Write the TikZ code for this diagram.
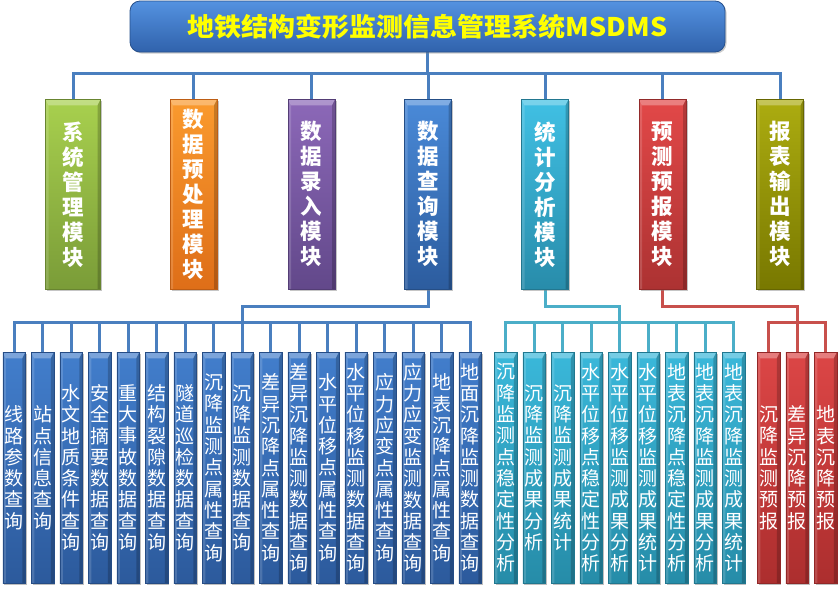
\documentclass[tikz,border=0pt]{standalone}
\usepackage{fontspec}
\newfontfamily\cjk{Noto Sans CJK SC}
\usetikzlibrary{shadows,calc}
\pgfdeclarelayer{background}
\pgfsetlayers{background,main}
\makeatletter
\newcommand\vstk[1]{\def\vres{}\def\vsep{}\@tfor\vch:=#1\do{\edef\vres{\unexpanded\expandafter{\vres}\unexpanded\expandafter{\vsep}\vch}\def\vsep{\\}}\vres}
\makeatother
\definecolor{lineB}{HTML}{4A7FBF}
\definecolor{lineC}{HTML}{4BAEC8}
\definecolor{lineR}{HTML}{C8504C}
\definecolor{titleT}{RGB}{84,146,224}
\definecolor{titleB}{RGB}{48,98,172}
\definecolor{titleD}{RGB}{38,80,140}
\definecolor{titleY}{RGB}{255,255,0}
\definecolor{gT}{RGB}{168,208,78}\definecolor{gB}{RGB}{122,156,56}
\definecolor{oT}{RGB}{250,154,46}\definecolor{oB}{RGB}{222,110,24}
\definecolor{pT}{RGB}{140,104,184}\definecolor{pB}{RGB}{98,72,138}
\definecolor{bT}{RGB}{74,138,216}\definecolor{bB}{RGB}{44,92,158}
\definecolor{cT}{RGB}{64,192,228}\definecolor{cB}{RGB}{40,140,170}
\definecolor{rT}{RGB}{226,72,72}\definecolor{rB}{RGB}{172,50,50}
\definecolor{yT}{RGB}{172,172,16}\definecolor{yB}{RGB}{120,120,0}
\definecolor{lbT}{RGB}{66,126,204}\definecolor{lbB}{RGB}{44,90,156}
\definecolor{lcT}{RGB}{58,184,218}\definecolor{lcB}{RGB}{38,140,168}
\definecolor{lrT}{RGB}{220,70,70}\definecolor{lrB}{RGB}{172,46,46}
\tikzset{
  bevel/.style={path picture={
    \fill[white,opacity=.3] (path picture bounding box.north west) -- (path picture bounding box.north east) -- ([xshift=-3pt,yshift=-6pt]path picture bounding box.north east) -- ([xshift=3pt,yshift=-6pt]path picture bounding box.north west) -- cycle;
    \fill[black,opacity=.2] (path picture bounding box.north east) -- ([xshift=-3pt,yshift=-6pt]path picture bounding box.north east) -- ([xshift=-3pt]path picture bounding box.south east) -- (path picture bounding box.south east) -- cycle;
    \fill[white,opacity=.15] (path picture bounding box.north west) -- ([xshift=3pt,yshift=-6pt]path picture bounding box.north west) -- ([xshift=3pt]path picture bounding box.south west) -- (path picture bounding box.south west) -- cycle;
  }},
  modbox/.style 2 args={anchor=north, minimum width=47pt, minimum height=190pt, inner sep=0pt,
    top color=#1, bottom color=#2, draw=#2!85!black, line width=0.6pt,
    drop shadow={shadow xshift=1.5pt,shadow yshift=-1.5pt,opacity=.45},
    bevel, text=white, align=center, font=\cjk\bfseries\fontsize{21.5}{25}\selectfont},
  leafbox/.style 2 args={anchor=north, minimum width=22.5pt, minimum height=231pt, inner sep=0pt,
    top color=#1, bottom color=#2, draw=#2!85!black, line width=0.5pt,
    drop shadow={shadow xshift=1.5pt,shadow yshift=-1.5pt,opacity=.5},
    bevel, text=white, align=center, font=\cjk\fontsize{19}{21.3}\selectfont},
  conn/.style={line width=3pt, draw=#1}
}
\begin{document}
\begin{tikzpicture}[x=1pt,y=-1pt]
\useasboundingbox (0,0) rectangle (840,590);
% title
\node[minimum width=595pt, minimum height=51pt, inner sep=0pt, rounded corners=10pt,
  top color=titleT, bottom color=titleB, draw=titleD, line width=0.8pt,
  drop shadow={shadow xshift=1.5pt,shadow yshift=-1.5pt,opacity=.4},
  text=titleY, font=\cjk\bfseries\fontsize{27}{30}\selectfont]
  (title) at (427.5,26.5) {\scalebox{1}[0.95]{地铁结构变形监测信息管理系统MSDMS}};
% modules
\node[modbox={gT}{gB}, minimum width=55pt] (m1) at (73,99) {\vstk{系统管理模块}};
\node[modbox={oT}{oB}] (m2) at (193.5,99) {\vstk{数据预处理模块}};
\node[modbox={pT}{pB}] (m3) at (311.5,99) {\vstk{数据录入模块}};
\node[modbox={bT}{bB}] (m4) at (428,99) {\vstk{数据查询模块}};
\node[modbox={cT}{cB}] (m5) at (545,99) {\vstk{统计分析模块}};
\node[modbox={rT}{rB}] (m6) at (662.5,99) {\vstk{预测预报模块}};
\node[modbox={yT}{yB}] (m7) at (780,99) {\vstk{报表输出模块}};
% blue leaves
\foreach \t [count=\i] in {线路参数查询,站点信息查询,水文地质条件查询,安全摘要数据查询,重大事故数据查询,结构裂隙数据查询,隧道巡检数据查询,沉降监测点属性查询,沉降监测数据查询,差异沉降点属性查询,差异沉降监测数据查询,水平位移点属性查询,水平位移监测数据查询,应力应变点属性查询,应力应变监测数据查询,地表沉降点属性查询,地面沉降监测数据查询}
  {\node[leafbox={lbT}{lbB}] (b\i) at ({14+28.5*(\i-1)},352) {\expandafter\vstk\expandafter{\t}};}
% cyan leaves
\foreach \t [count=\i] in {沉降监测点稳定性分析,沉降监测成果分析,沉降监测成果统计,水平位移点稳定性分析,水平位移监测成果分析,水平位移监测成果统计,地表沉降点稳定性分析,地表沉降监测成果分析,地表沉降监测成果统计}
  {\node[leafbox={lcT}{lcB}] (c\i) at ({505.5+28.5*(\i-1)},352) {\expandafter\vstk\expandafter{\t}};}
% red leaves
\foreach \t [count=\i] in {沉降监测预报,差异沉降预报,地表沉降预报}
  {\node[leafbox={lrT}{lrB}] (r\i) at ({768.5+28.5*(\i-1)},352) {\expandafter\vstk\expandafter{\t}};}
% connectors
\coordinate (bar) at (0,73);
\coordinate (jb1) at (242,306); \coordinate (jb2) at (242,322);
\coordinate (jc1) at (619.5,306); \coordinate (jc2) at (619.5,322);
\coordinate (jr1) at (797,306); \coordinate (jr2) at (797,322);
\begin{pgfonlayer}{background}
\fill[white] (0,0) rectangle (840,590);
\foreach \i in {1,...,7} \draw[conn=lineB] (title.south) -- (title.south |- bar) -| (m\i.north);
\foreach \i in {1,...,17} \draw[conn=lineB] (m4.south) |- (jb1) -- (jb2) -| (b\i.north);
\foreach \i in {1,...,9} \draw[conn=lineC] (m5.south) |- (jc1) -- (jc2) -| (c\i.north);
\foreach \i in {1,...,3} \draw[conn=lineR] (m6.south) |- (jr1) -- (jr2) -| (r\i.north);
\end{pgfonlayer}
\end{tikzpicture}
\end{document}
